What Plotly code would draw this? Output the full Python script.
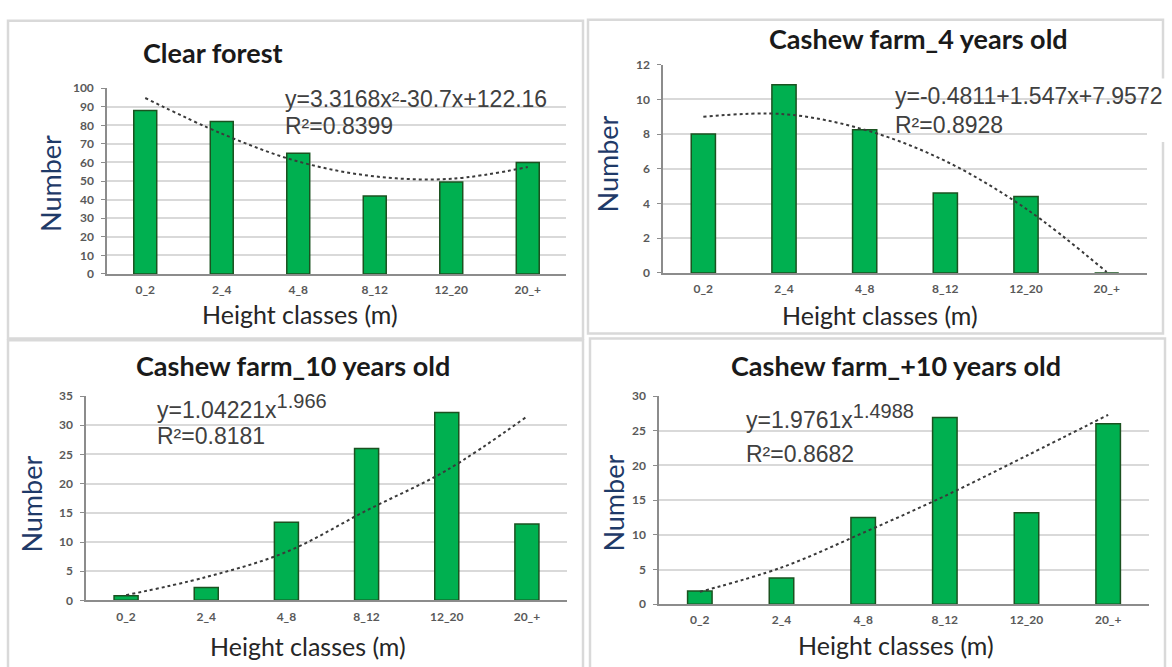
import plotly.graph_objects as go

W, H = 1172, 667

# ---------------- data ----------------
categories = ["0_2", "2_4", "4_8", "8_12", "12_20", "20_+"]

clear_forest = [88, 82, 65, 42, 49.5, 60]
cashew_4 = [8.0, 10.85, 8.25, 4.6, 4.4, 0]
cashew_10 = [0.8, 2.2, 13.4, 26.0, 32.2, 13.1]
cashew_10plus = [1.9, 3.8, 12.5, 26.9, 13.2, 26.0]

trend_clear_forest = [94.7, 75.5, 60.5, 52.5, 51.2, 57.5]
trend_cashew_4 = [9.0, 9.15, 8.25, 6.45, 3.7, 0.05]
trend_cashew_10 = [0.9, 4.0, 8.3, 15.4, 22.3, 31.5]
trend_cashew_10plus = [1.8, 5.3, 10.3, 15.6, 21.4, 27.3]

titles = ["Clear forest", "Cashew farm_4 years old",
          "Cashew farm_10 years old", "Cashew farm_+10 years old"]
eq_main = ["y=3.3168x²-30.7x+122.16", "y=-0.4811+1.547x+7.9572",
           "y=1.04221x", "y=1.9761x"]
eq_exponent = ["", "", "1.966", "1.4988"]
r_squared = ["R²=0.8399", "R²=0.8928", "R²=0.8181", "R²=0.8682"]
y_max = [100, 12, 35, 30]
y_step = [10, 2, 5, 5]
x_title = "Height classes (m)"
y_title = "Number"

bars = [clear_forest, cashew_4, cashew_10, cashew_10plus]
trends = [trend_clear_forest, trend_cashew_4, trend_cashew_10, trend_cashew_10plus]

# ---------------- layout geometry (pixels) ----------------
# plot area: left, right, top, bottom
areas = [(107, 566, 82, 272), (663, 1147, 58, 271),
         (86, 567, 397, 606), (659, 1149, 397, 610)]
title_pos = [(213, 46), (918, 31), (293, 366), (896, 366)]
ytitle_pos = [(51, 180), (607, 160), (32, 508), (614, 507)]
xtitle_pos = [(300, 313), (880, 314), (308, 653), (896, 652)]
eq_pos = [(283, 93, 121), (893, 90, 120), (155, 408, 438), (744, 418, 456)]
borders = [(8, 13, 583, 338), (588, 12, 1163, 333),
           (8, 340, 583, 700), (590, 338, 1165, 700)]
covers = [(278, 78, 562, 145), (885, 72, 1172, 137),
          (147, 394, 352, 462), (738, 394, 962, 478), (722, 393, 1083, 401)]


def px(x):
    return x / W


def py(y):
    return 1 - y / H


fig = go.Figure()
layout = dict(
    width=W, height=H, margin=dict(l=0, r=0, t=0, b=0),
    paper_bgcolor="white", plot_bgcolor="rgba(0,0,0,0)",
    showlegend=False, bargap=0.7,
)
annotations = []
shapes = []
tick_font = dict(family="Lato", size=12, color="#595959", weight="bold")
eq_font = dict(family="Liberation Sans", size=23, color="#404040")

for i in range(4):
    n = "" if i == 0 else str(i + 1)
    l, r, t, b = areas[i]
    fig.add_trace(go.Bar(
        x=categories, y=bars[i], xaxis="x" + n, yaxis="y" + n,
        marker=dict(color="#00B050", line=dict(color="#1B5220", width=1.5)),
    ))
    fig.add_trace(go.Scatter(
        x=categories, y=trends[i], xaxis="x" + n, yaxis="y" + n,
        mode="lines", line=dict(color="#3A3A3A", width=2, dash="dot", shape="spline"),
    ))
    layout["xaxis" + n] = dict(
        domain=[px(l), px(r)], anchor="y" + n, type="category",
        showgrid=False, showline=True, linecolor="#8C8C8C", linewidth=1.5,
        ticks="", ticklabelstandoff=4, tickfont=tick_font, fixedrange=True,
    )
    layout["yaxis" + n] = dict(
        domain=[py(b), py(t)], anchor="x" + n, range=[0, y_max[i]],
        dtick=y_step[i], tick0=0, showline=True, linecolor="#8C8C8C", linewidth=1.5,
        ticks="outside", ticklen=4, tickcolor="#8C8C8C", ticklabelstandoff=5,
        showgrid=True, gridcolor="#D9D9D9", gridwidth=2, zeroline=False,
        tickfont=tick_font, fixedrange=True,
    )
    tx, ty = title_pos[i]
    annotations.append(dict(
        text=titles[i], x=px(tx), y=py(ty), xref="paper", yref="paper",
        xanchor="center", yanchor="middle", showarrow=False,
        font=dict(family="Lato", size=27, color="#1A1A1A", weight="bold"),
    ))
    yx, yy = ytitle_pos[i]
    annotations.append(dict(
        text=y_title, x=px(yx), y=py(yy), xref="paper", yref="paper",
        xanchor="center", yanchor="middle", showarrow=False, textangle=-90,
        font=dict(family="Lato", size=27, color="#1F3A68"),
    ))
    xx, xy = xtitle_pos[i]
    annotations.append(dict(
        text=x_title, x=px(xx), y=py(xy), xref="paper", yref="paper",
        xanchor="center", yanchor="middle", showarrow=False,
        font=dict(family="Lato", size=25, color="#262626"),
    ))
    ex, ey1, ey2 = eq_pos[i]
    eq_text = eq_main[i]
    if eq_exponent[i]:
        eq_text += '<sup><span style="font-size:20px">' + eq_exponent[i] + "</span></sup>"
    annotations.append(dict(
        text=eq_text, x=px(ex), y=py(ey1), xref="paper", yref="paper",
        xanchor="left", yanchor="middle", showarrow=False, font=eq_font,
    ))
    annotations.append(dict(
        text=r_squared[i], x=px(ex), y=py(ey2), xref="paper", yref="paper",
        xanchor="left", yanchor="middle", showarrow=False, font=eq_font,
    ))

for (x0, y0, x1, y1) in borders:
    shapes.append(dict(type="rect", xref="paper", yref="paper",
                       x0=px(x0), x1=px(x1), y0=py(y1), y1=py(y0),
                       line=dict(color="#D9D9D9", width=2.5), layer="below"))
for (x0, y0, x1, y1) in covers:
    shapes.append(dict(type="rect", xref="paper", yref="paper",
                       x0=px(x0), x1=px(x1), y0=py(y1), y1=py(y0),
                       line=dict(width=0), fillcolor="white", layer="between"))

layout["annotations"] = annotations
layout["shapes"] = shapes
fig.update_layout(**layout)
fig.write_html(
    "out.html",
    config={"displayModeBar": False},
    post_script="document.body.style.margin='0';document.body.style.overflow='hidden';",
)
